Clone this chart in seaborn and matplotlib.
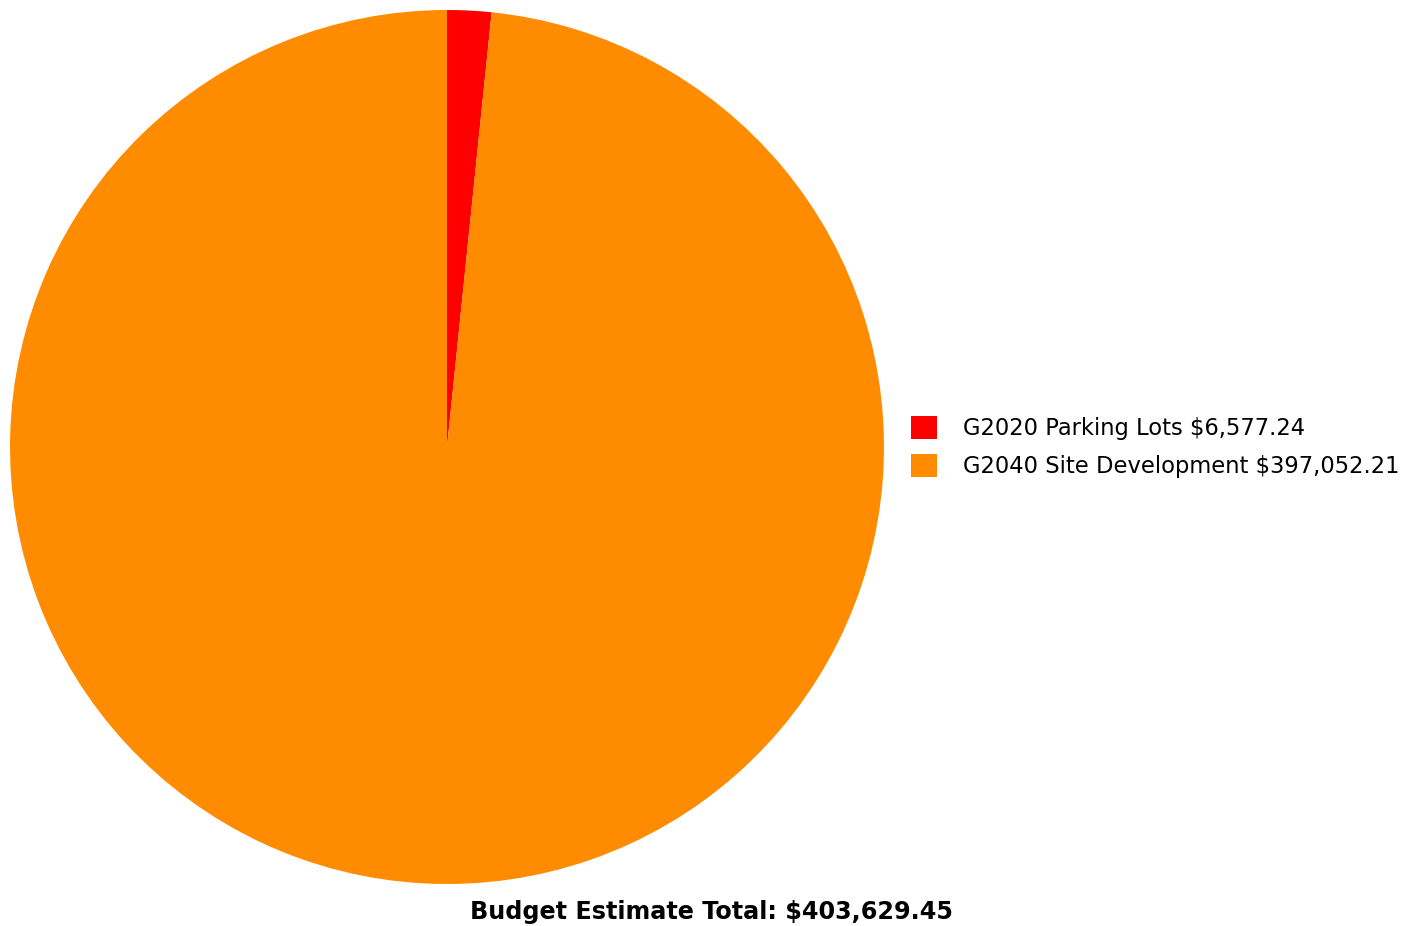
import matplotlib
matplotlib.use("Agg")
import matplotlib.pyplot as plt
import seaborn as sns

categories = ["G2020 Parking Lots", "G2040 Site Development"]
values = [6577.24, 397052.21]
colors = ["#FF0000", "#FF8C00"]
total_label = "Budget Estimate Total: $403,629.45"

sns.set_theme(style="white")
plt.rcParams['font.family'] = ['DejaVu Sans']
plt.rcParams['text.color'] = 'black'

W, H = 1414, 926
fig = plt.figure(figsize=(W / 100, H / 100), dpi=100)
ax = fig.add_axes([10 / W, (H - 884) / H, 874 / W, 874 / H])
wedges, _ = ax.pie(values, colors=colors, startangle=90, counterclock=False,
                   radius=1.0, wedgeprops=dict(linewidth=0))
ax.set_xlim(-1, 1)
ax.set_ylim(-1, 1)
ax.set_aspect("equal")
ax.axis("off")

labels = [f"{c} ${v:,.2f}" for c, v in zip(categories, values)]
leg = fig.legend(wedges, labels, loc="upper left",
                 bbox_to_anchor=(908 / W, 1 - 413 / H), frameon=False,
                 fontsize=16.3, handlelength=1.15, handleheight=1.15,
                 handletextpad=1.15, labelspacing=0.62, borderpad=0.15,
                 borderaxespad=0)
for t in leg.get_texts():
    t.set_color("black")

fig.text(711 / W, 1 - 912 / H, total_label, ha="center", va="center",
         fontsize=17.2, fontweight="bold", color="black")

fig.savefig("out.png", dpi=100, facecolor="white")
